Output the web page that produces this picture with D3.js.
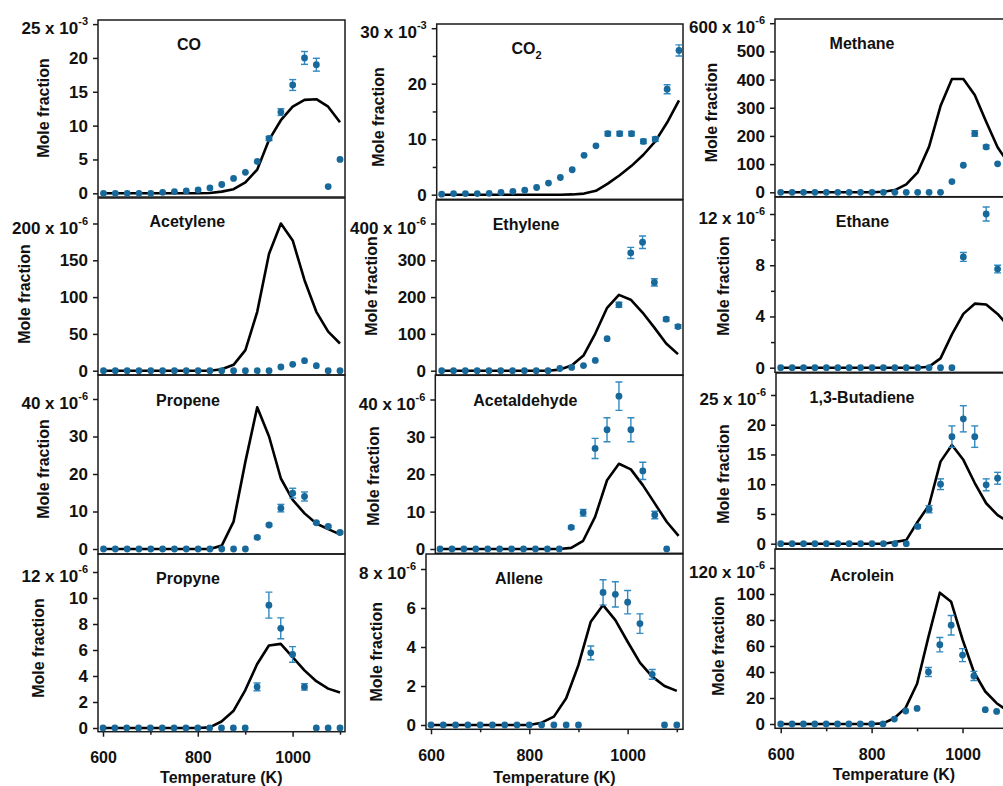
<!DOCTYPE html>
<html>
<head>
<meta charset="utf-8">
<script src="https://cdn.jsdelivr.net/npm/d3@7"></script>
<style>
  body { margin: 0; background: #fff; }
  svg { display: block; }
  text { font-family: "Liberation Sans", Arial, Helvetica, sans-serif; font-weight: bold; fill: #111; }
</style>
</head>
<body>
<svg id="fig" width="1003" height="786"></svg>
<script>
// Temperature grid of the flow-reactor measurements (K)
const temperatureK = [600, 625, 650, 675, 700, 725, 750, 775, 800, 825, 850, 875, 900, 925, 950, 975, 1000, 1025, 1050, 1075, 1100];

// Species names
const speciesNames = ["CO", "CO", "Methane", "Acetylene", "Ethylene", "Ethane", "Propene", "Acetaldehyde", "1,3-Butadiene", "Propyne", "Allene", "Acrolein"];

// CO (x10^-3)
const coMeasured = [0, 0, 0, 0, 0, 0.15, 0.25, 0.35, 0.5, 0.8, 1.3, 2.2, 3.1, 4.7, 8.1, 12.0, 16.0, 20.0, 19.0, 1.0, 5.0];
const coError    = [0, 0, 0, 0, 0, 0, 0, 0, 0, 0, 0, 0, 0, 0, 0.3, 0.5, 0.8, 0.95, 0.95, 0, 0];
const coModel    = [0, 0, 0, 0, 0, 0, 0, 0, 0, 0.05, 0.25, 0.6, 1.6, 3.5, 7.9, 10.8, 12.8, 13.8, 13.9, 12.8, 10.5];

// CO2 (x10^-3)
const co2Measured = [0.1, 0.2, 0.2, 0.2, 0.25, 0.4, 0.6, 0.8, 1.3, 2.1, 3.1, 4.5, 7.1, 8.8, 11.0, 11.0, 11.0, 9.6, 10.0, 19.0, 26.0];
const co2Error    = [0, 0, 0, 0, 0, 0, 0, 0, 0, 0, 0, 0, 0, 0, 0.4, 0.4, 0.4, 0.4, 0.4, 0.8, 1.0];
const co2Model    = [0, 0, 0, 0, 0, 0, 0, 0, 0, 0, 0, 0.05, 0.2, 0.7, 2.0, 3.5, 5.2, 7.2, 9.6, 13.0, 17.0];

// Methane (x10^-6)
const ch4Measured = [0, 0, 0, 0, 0, 0, 0, 0, 0, 0, 0, 0, 0, 0, 0, 38, 96, 209, 161, 101, 60];
const ch4Error    = [0, 0, 0, 0, 0, 0, 0, 0, 0, 0, 0, 0, 0, 0, 0, 0, 0, 10, 6, 0, 0];
const ch4Model    = [0, 0, 0, 0, 0, 0, 0, 0, 0, 2, 8, 28, 71, 162, 306, 402, 402, 345, 250, 160, 100];

// Acetylene (x10^-6)
const c2h2Measured = [0, 0, 0, 0, 0, 0, 0, 0, 0, 0, 0, 0, 0, 0, 0, 5, 8.6, 13.6, 6.8, 0, 0];
const c2h2Error    = [0, 0, 0, 0, 0, 0, 0, 0, 0, 0, 0, 0, 0, 0, 0, 0, 0, 0, 0, 0, 0];
const c2h2Model    = [0, 0, 0, 0, 0, 0, 0, 0, 0, 0, 2, 8, 28, 80, 159, 200, 177, 123, 80, 53, 37];

// Ethylene (x10^-6)
const c2h4Measured = [0, 0, 0, 0, 0, 0, 0, 0, 0, 0, 6, 9, 14, 28, 87, 179, 320, 349, 240, 140, 120];
const c2h4Error    = [0, 0, 0, 0, 0, 0, 0, 0, 0, 0, 0, 0, 0, 0, 0, 7, 15, 17, 10, 5, 5];
const c2h4Model    = [0, 0, 0, 0, 0, 0, 0, 0, 0, 0, 3, 14, 41, 101, 171, 206, 193, 158, 117, 74, 45];

// Ethane (x10^-6); no value at 1025 K
const c2h6Measured = [0, 0, 0, 0, 0, 0, 0, 0, 0, 0, 0, 0, 0, 0, 0, 0, 8.65, null, 12.0, 7.7, 5.0];
const c2h6Error    = [0, 0, 0, 0, 0, 0, 0, 0, 0, 0, 0, 0, 0, 0, 0, 0, 0.35, 0, 0.55, 0.3, 0.3];
const c2h6Model    = [0, 0, 0, 0, 0, 0, 0, 0, 0, 0, 0, 0, 0, 0.08, 0.73, 2.6, 4.2, 5.0, 4.93, 4.2, 3.2];

// Propene (x10^-6)
const c3h6Measured = [0, 0, 0, 0, 0, 0, 0, 0, 0, 0, 0, 0, 0, 3.1, 6.4, 10.9, 14.9, 14.0, 7.0, 6.0, 4.4];
const c3h6Error    = [0, 0, 0, 0, 0, 0, 0, 0, 0, 0, 0, 0, 0, 0.3, 0.3, 1.0, 1.3, 1.2, 0.3, 0.3, 0.3];
const c3h6Model    = [0, 0, 0, 0, 0, 0, 0, 0, 0, 0, 0.9, 7.3, 23.3, 37.8, 30.0, 18.8, 13.1, 9.5, 6.8, 5.3, 3.9];

// Acetaldehyde (x10^-6); no value at 1100 K
const ch3choMeasured = [0, 0, 0, 0, 0, 0, 0, 0, 0, 0, 0, 5.8, 9.7, 26.9, 31.9, 40.9, 31.9, 20.9, 9.1, 0, null];
const ch3choError    = [0, 0, 0, 0, 0, 0, 0, 0, 0, 0, 0, 0.4, 0.9, 2.7, 3.2, 3.8, 3.2, 2.3, 1.0, 0, 0];
const ch3choModel    = [0, 0, 0, 0, 0, 0, 0, 0, 0, 0, 0, 0.3, 2.2, 8.6, 18.4, 22.8, 21.3, 17.1, 12.2, 7.3, 3.5];

// 1,3-Butadiene (x10^-6)
const c4h6Measured = [0, 0, 0, 0, 0, 0, 0, 0, 0, 0, 0, 0, 2.9, 5.8, 10.0, 18.0, 21.0, 18.0, 9.9, 11.0, 8.0];
const c4h6Error    = [0, 0, 0, 0, 0, 0, 0, 0, 0, 0, 0, 0, 0.3, 0.6, 0.9, 1.8, 2.2, 1.8, 1.0, 1.0, 1.0];
const c4h6Model    = [0, 0, 0, 0, 0, 0, 0, 0, 0, 0, 0.3, 0.6, 3.7, 6.5, 13.8, 16.6, 14.1, 10.2, 6.8, 4.8, 3.6];

// Propyne (x10^-6)
const pc3h4Measured = [0, 0, 0, 0, 0, 0, 0, 0, 0, 0, 0, 0, 0, 3.16, 9.45, 7.67, 5.66, 3.16, 0, 0, 0];
const pc3h4Error    = [0, 0, 0, 0, 0, 0, 0, 0, 0, 0, 0, 0, 0, 0.3, 1.0, 0.8, 0.6, 0.25, 0, 0, 0];
const pc3h4Model    = [0, 0, 0, 0, 0, 0, 0, 0, 0, 0.05, 0.5, 1.3, 2.9, 4.9, 6.35, 6.47, 5.45, 4.43, 3.6, 3.03, 2.73];

// Allene (x10^-6)
const ac3h4Measured = [0, 0, 0, 0, 0, 0, 0, 0, 0, 0, 0, 0, 0, 3.7, 6.8, 6.7, 6.3, 5.2, 2.6, 0, 0];
const ac3h4Error    = [0, 0, 0, 0, 0, 0, 0, 0, 0, 0, 0, 0, 0, 0.35, 0.65, 0.65, 0.6, 0.5, 0.25, 0, 0];
const ac3h4Model    = [0, 0, 0, 0, 0, 0, 0, 0, 0, 0.12, 0.43, 1.37, 3.08, 5.3, 6.15, 5.38, 4.27, 3.2, 2.48, 2.0, 1.75];

// Acrolein (x10^-6)
const acroMeasured = [0, 0, 0, 0, 0, 0, 0, 0, 0, 0, 3.8, 10, 12, 40, 61, 76, 53, 37, 11, 9.7, 8];
const acroError    = [0, 0, 0, 0, 0, 0, 0, 0, 0, 0, 0, 0, 0, 3.5, 5.5, 7.5, 5, 3.5, 0, 0, 0];
const acroModel    = [0, 0, 0, 0, 0, 0, 0, 0, 0, 0.5, 4.4, 12.6, 31, 67, 101, 94, 65, 40, 25, 16, 10];

// Y tick values (major / minor) and exponents of the top tick label
const yMajorTicks = [
  [0, 5, 10, 15, 20, 25], [0, 10, 20, 30], [0, 100, 200, 300, 400, 500, 600],
  [0, 50, 100, 150, 200], [0, 100, 200, 300, 400], [0, 4, 8, 12],
  [0, 10, 20, 30, 40], [0, 10, 20, 30, 40], [0, 5, 10, 15, 20, 25],
  [0, 2, 4, 6, 8, 10, 12], [0, 2, 4, 6, 8], [0, 20, 40, 60, 80, 100, 120]
];
const yMinorTicks = [[], [5, 15, 25], [], [], [], [2, 6, 10], [], [], [], [], [], []];
const yExponents = ["-3", "-3", "-6", "-6", "-6", "-6", "-6", "-6", "-6", "-6", "-6", "-6"];
const xMajorTicks = [600, 800, 1000];
const xMinorTicks = [700, 900, 1100];
const xTickLabels = ["600", "800", "1000"];
const yAxisTitle = "Mole fraction";
const xAxisTitle = "Temperature (K)";

const series = [
  [coMeasured, coError, coModel], [co2Measured, co2Error, co2Model], [ch4Measured, ch4Error, ch4Model],
  [c2h2Measured, c2h2Error, c2h2Model], [c2h4Measured, c2h4Error, c2h4Model], [c2h6Measured, c2h6Error, c2h6Model],
  [c3h6Measured, c3h6Error, c3h6Model], [ch3choMeasured, ch3choError, ch3choModel], [c4h6Measured, c4h6Error, c4h6Model],
  [pc3h4Measured, pc3h4Error, pc3h4Model], [ac3h4Measured, ac3h4Error, ac3h4Model], [acroMeasured, acroError, acroModel]
];

// ---- page layout (pixels) ----
const panelBox = [ // left, top, right, bottom
  [98, 20, 345, 197], [436.7, 24, 683, 199.3], [775, 19, 1012, 196.7],
  [98, 198, 345, 375], [436, 200, 683, 375.3], [775, 197, 1012, 372.3],
  [98, 375, 345, 554], [435.3, 375, 683, 553.3], [776, 373, 1012, 549],
  [98, 554, 345, 731.7], [426, 554, 683, 729.3], [775, 549, 1012, 728.3]
];
const xPix = [ // pixel of 600 K and 1100 K
  [103.5, 340], [441.7, 679], [780.7, 1009],
  [103.5, 340], [441.7, 678], [780.7, 1009],
  [103.5, 340], [440, 678.6], [780.7, 1009],
  [103, 340], [431, 676.8], [780.7, 1008]
];
const yPix = [ // pixel of 0 and of the top tick
  [193.3, 24.1], [194.7, 28.2], [192.3, 23.2],
  [370.7, 223.5], [370.7, 223.5], [367.7, 214],
  [549, 399], [549, 399.5], [543.7, 395],
  [728, 572], [725, 569], [724, 568]
];
const yTitlePos = [[43.5, 108], [378, 117], [711.5, 112.5], [24, 294], [371.5, 286], [723, 286],
                   [43, 469], [373, 476], [723, 474], [38, 648], [376.5, 651.7], [718, 646]];
const namePos = [[189, 44.3], [526.5, 48.3], [862, 43.3], [187.3, 221.7], [526, 224.3], [862.5, 221.7],
                 [188, 400.7], [525.3, 400.7], [862, 397.7], [188, 578], [519, 578], [862, 575]];
const bottomRow = [9, 10, 11];
const xTitlePos = [[221.3, 777], [554.5, 777.7], [894, 774.3]];

const markerColor = "#17699b";
const errorColor = "#3189c0";
const fontSize = 16;
const tickFontSize = 17;

const svg = d3.select("#fig");
const defs = svg.append("defs");

series.forEach(([meas, err, model], k) => {
  const [fl, ft, fr, fb] = panelBox[k];
  const ticks = yMajorTicks[k];
  const yTop = ticks[ticks.length - 1];
  const x = d3.scaleLinear().domain([600, 1100]).range(xPix[k]);
  const y = d3.scaleLinear().domain([0, yTop]).range(yPix[k]);
  const g = svg.append("g");

  defs.append("clipPath").attr("id", "clip" + k)
    .append("rect").attr("x", fl).attr("y", ft).attr("width", fr - fl).attr("height", fb - ft);

  // frame
  g.append("rect").attr("x", fl).attr("y", ft).attr("width", fr - fl).attr("height", fb - ft)
    .attr("fill", "none").attr("stroke", "#1a1a1a").attr("stroke-width", 1.5);

  // left axis, major ticks
  const yAx = g.append("g").attr("transform", `translate(${fl},0)`)
    .call(d3.axisLeft(y).tickValues(ticks).tickSize(5).tickPadding(5)
      .tickFormat((d, i) => i === ticks.length - 1 ? "" : String(d)));
  yAx.select(".domain").remove();
  yAx.selectAll("line").attr("stroke", "#1a1a1a").attr("stroke-width", 1.5);
  yAx.selectAll("text").style("font-size", tickFontSize + "px").style("font-family", null).attr("fill", "#111");

  // minor ticks
  if (yMinorTicks[k].length) {
    const yMin = g.append("g").attr("transform", `translate(${fl},0)`)
      .call(d3.axisLeft(y).tickValues(yMinorTicks[k]).tickSize(4).tickFormat(""));
    yMin.select(".domain").remove();
    yMin.selectAll("line").attr("stroke", "#1a1a1a").attr("stroke-width", 1.5);
  }

  // top tick label with exponent
  const topLbl = g.append("text").attr("x", fl - 10).attr("y", y(yTop) + 4 + 6)
    .attr("text-anchor", "end").style("font-size", tickFontSize + "px");
  topLbl.append("tspan").text(yTop + " x 10");
  topLbl.append("tspan").attr("dy", -9).style("font-size", "11px").text(yExponents[k]);

  // y axis title
  g.append("text").attr("transform", `translate(${yTitlePos[k][0]},${yTitlePos[k][1]}) rotate(-90)`)
    .attr("text-anchor", "middle").attr("dy", "0.35em").style("font-size", fontSize + "px").text(yAxisTitle);

  // species name
  const nm = g.append("text").attr("x", namePos[k][0]).attr("y", namePos[k][1]).attr("dy", "0.36em")
    .attr("text-anchor", "middle").style("font-size", fontSize + "px");
  nm.append("tspan").text(speciesNames[k]);
  if (k === 1) nm.append("tspan").attr("dy", 5).style("font-size", "11px").text("2");

  // bottom temperature axis
  const bi = bottomRow.indexOf(k);
  if (bi >= 0) {
    const xAx = g.append("g").attr("transform", `translate(0,${fb})`)
      .call(d3.axisBottom(x).tickValues(xMajorTicks).tickSize(5).tickPadding(15)
        .tickFormat((d, i) => xTickLabels[i]));
    xAx.select(".domain").remove();
    xAx.selectAll("line").attr("stroke", "#1a1a1a").attr("stroke-width", 1.5);
    xAx.selectAll("text").style("font-size", fontSize + "px").style("font-family", null).attr("fill", "#111");
    const xMin = g.append("g").attr("transform", `translate(0,${fb})`)
      .call(d3.axisBottom(x).tickValues(xMinorTicks).tickSize(3).tickFormat(""));
    xMin.select(".domain").remove();
    xMin.selectAll("line").attr("stroke", "#1a1a1a").attr("stroke-width", 1.5);
    g.append("text").attr("x", xTitlePos[bi][0]).attr("y", xTitlePos[bi][1]).attr("dy", "0.36em")
      .attr("text-anchor", "middle").style("font-size", fontSize + "px").text(xAxisTitle);
  }

  // plotted data, clipped to the frame
  const plot = g.append("g").attr("clip-path", `url(#clip${k})`);
  const line = d3.line().x((d, i) => x(temperatureK[i])).y(d => y(d));
  plot.append("path").datum(model).attr("d", line)
    .attr("fill", "none").attr("stroke", "#000").attr("stroke-width", 2.6).attr("stroke-linejoin", "round");

  const pts = temperatureK.map((t, i) => ({ t, v: meas[i], e: err[i] })).filter(d => d.v !== null);
  const eb = plot.append("g").attr("stroke", errorColor).attr("stroke-width", 1.4);
  pts.filter(d => d.e > 0).forEach(d => {
    const cx = x(d.t), y1 = y(d.v - d.e), y2 = y(d.v + d.e);
    eb.append("line").attr("x1", cx).attr("x2", cx).attr("y1", y1).attr("y2", y2);
    eb.append("line").attr("x1", cx - 3.5).attr("x2", cx + 3.5).attr("y1", y1).attr("y2", y1);
    eb.append("line").attr("x1", cx - 3.5).attr("x2", cx + 3.5).attr("y1", y2).attr("y2", y2);
  });
  plot.append("g").selectAll("circle").data(pts).join("circle")
    .attr("cx", d => x(d.t)).attr("cy", d => y(d.v)).attr("r", 3.4).attr("fill", markerColor);
});
</script>
</body>
</html>
